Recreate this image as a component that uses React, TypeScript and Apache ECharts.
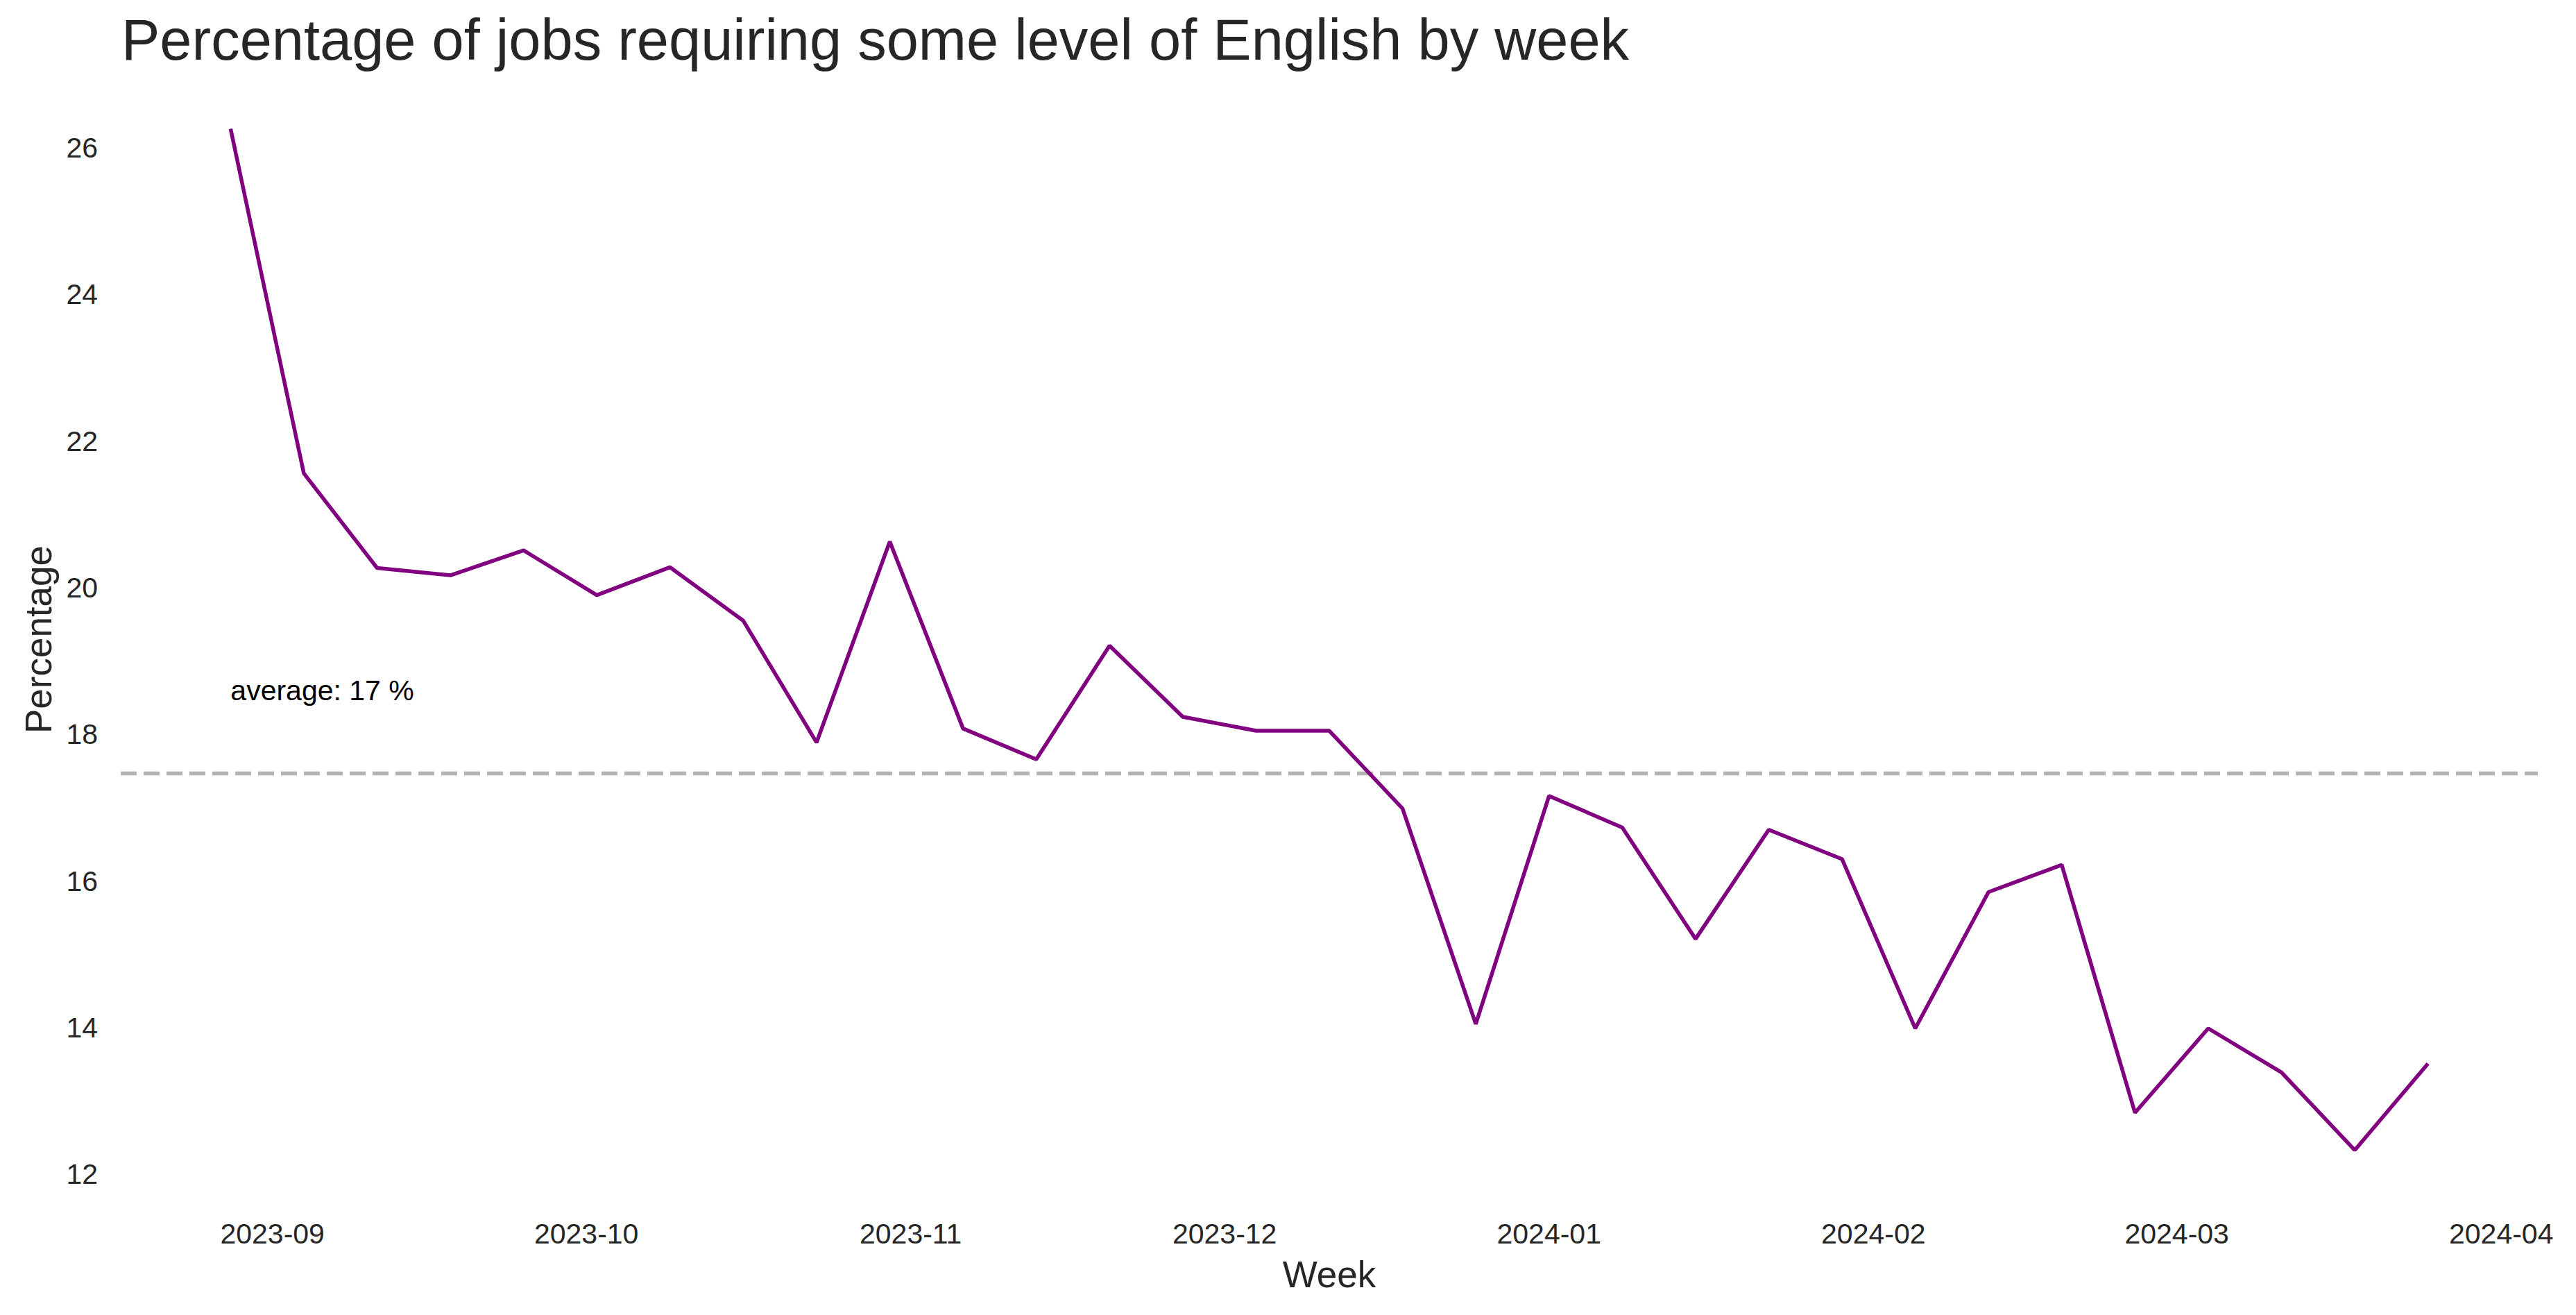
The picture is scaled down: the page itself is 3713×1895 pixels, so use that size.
import React, { useEffect, useRef } from "react";
import * as echarts from "echarts";

const weeks: string[] = [
  "2023-08-28", "2023-09-04", "2023-09-11", "2023-09-18", "2023-09-25",
  "2023-10-02", "2023-10-09", "2023-10-16", "2023-10-23", "2023-10-30",
  "2023-11-06", "2023-11-13", "2023-11-20", "2023-11-27", "2023-12-04",
  "2023-12-11", "2023-12-18", "2023-12-25", "2024-01-01", "2024-01-08",
  "2024-01-15", "2024-01-22", "2024-01-29", "2024-02-05", "2024-02-12",
  "2024-02-19", "2024-02-26", "2024-03-04", "2024-03-11", "2024-03-18",
  "2024-03-25",
];

const percentages: number[] = [
  26.26, 21.56, 20.27, 20.17, 20.51,
  19.9, 20.28, 19.55, 17.89, 20.63,
  18.08, 17.66, 19.21, 18.24, 18.05,
  18.05, 16.99, 14.05, 17.16, 16.73,
  15.21, 16.7, 16.3, 13.99, 15.85,
  16.22, 12.84, 13.99, 13.39, 12.33,
  13.51,
];

const monthTicks: string[] = [
  "2023-09-01", "2023-10-01", "2023-11-01", "2023-12-01",
  "2024-01-01", "2024-02-01", "2024-03-01", "2024-04-01",
];

const yTicks: number[] = [12, 14, 16, 18, 20, 22, 24, 26];

const TITLE = "Percentage of jobs requiring some level of English by week";
const FONT = "'Liberation Sans', Arial, Helvetica, sans-serif";

function toTs(s: string): number {
  const [y, m, d] = s.split("-").map(Number);
  return Date.UTC(y, m - 1, d);
}

function fmtMonth(v: number): string {
  const d = new Date(v);
  const mm = String(d.getUTCMonth() + 1).padStart(2, "0");
  return `${d.getUTCFullYear()}-${mm}`;
}

export default function App() {
  const ref = useRef<HTMLDivElement>(null);

  useEffect(() => {
    document.body.style.margin = "0";
    if (!ref.current) return;
    const chart = echarts.init(ref.current, undefined, { renderer: "svg" });

    const xs = weeks.map(toTs);
    const data = xs.map((t, i) => [t, percentages[i]]);
    const avg = percentages.reduce((a, b) => a + b, 0) / percentages.length;

    const xSpan = xs[xs.length - 1] - xs[0];
    const xMin = xs[0] - xSpan * 0.05;
    const xMax = xs[xs.length - 1] + xSpan * 0.05;
    const yLo = Math.min(...percentages);
    const yHi = Math.max(...percentages);
    const ySpan = yHi - yLo;
    const yMin = yLo - ySpan * 0.05;
    const yMax = yHi + ySpan * 0.05;

    chart.setOption({
      animation: false,
      backgroundColor: "#ffffff",
      textStyle: { fontFamily: FONT },
      title: {
        text: TITLE,
        left: 175,
        top: 16,
        padding: 0,
        textStyle: {
          fontFamily: FONT,
          fontSize: 83,
          fontWeight: "normal",
          color: "#262626",
        },
      },
      grid: { left: 174, right: 55, top: 112, bottom: 164, containLabel: false },
      xAxis: {
        type: "value",
        min: xMin,
        max: xMax,
        name: "Week",
        nameLocation: "middle",
        nameGap: 79,
        nameTextStyle: { fontFamily: FONT, fontSize: 53, color: "#262626" },
        axisLine: { show: false },
        axisTick: { show: false },
        splitLine: { show: false },
        axisLabel: {
          customValues: monthTicks.map(toTs),
          formatter: (v: number) => fmtMonth(v),
          fontFamily: FONT,
          fontSize: 41,
          color: "#262626",
          margin: 26,
          hideOverlap: false,
        },
      },
      yAxis: {
        type: "value",
        min: yMin,
        max: yMax,
        name: "Percentage",
        nameLocation: "middle",
        nameGap: 92,
        nameTextStyle: { fontFamily: FONT, fontSize: 53, color: "#262626" },
        axisLine: { show: false },
        axisTick: { show: false },
        splitLine: { show: false },
        axisLabel: {
          customValues: yTicks,
          formatter: (v: number) => String(Math.round(v)),
          fontFamily: FONT,
          fontSize: 41,
          color: "#262626",
          margin: 33,
        },
      },
      series: [
        {
          type: "line",
          data,
          symbol: "none",
          lineStyle: { color: "#800080", width: 5.5 },
          z: 3,
          markLine: {
            silent: true,
            symbol: "none",
            label: { show: false },
            lineStyle: { color: "#b3b3b3", width: 5.3, type: [23, 10] },
            data: [{ yAxis: avg }],
            z: 2,
          },
          markPoint: {
            silent: true,
            symbol: "circle",
            symbolSize: 0,
            data: [
              {
                coord: [xs[0], avg + 1],
                label: {
                  show: true,
                  position: "right",
                  distance: 0,
                  offset: [0, -14],
                  formatter: `average: ${Math.round(avg)} %`,
                  fontFamily: FONT,
                  fontSize: 41,
                  color: "#000000",
                },
              },
            ],
          },
        },
      ],
    });

    return () => chart.dispose();
  }, []);

  return (
    <div
      ref={ref}
      style={{ position: "absolute", left: 0, top: 0, width: 3713, height: 1895 }}
    />
  );
}
